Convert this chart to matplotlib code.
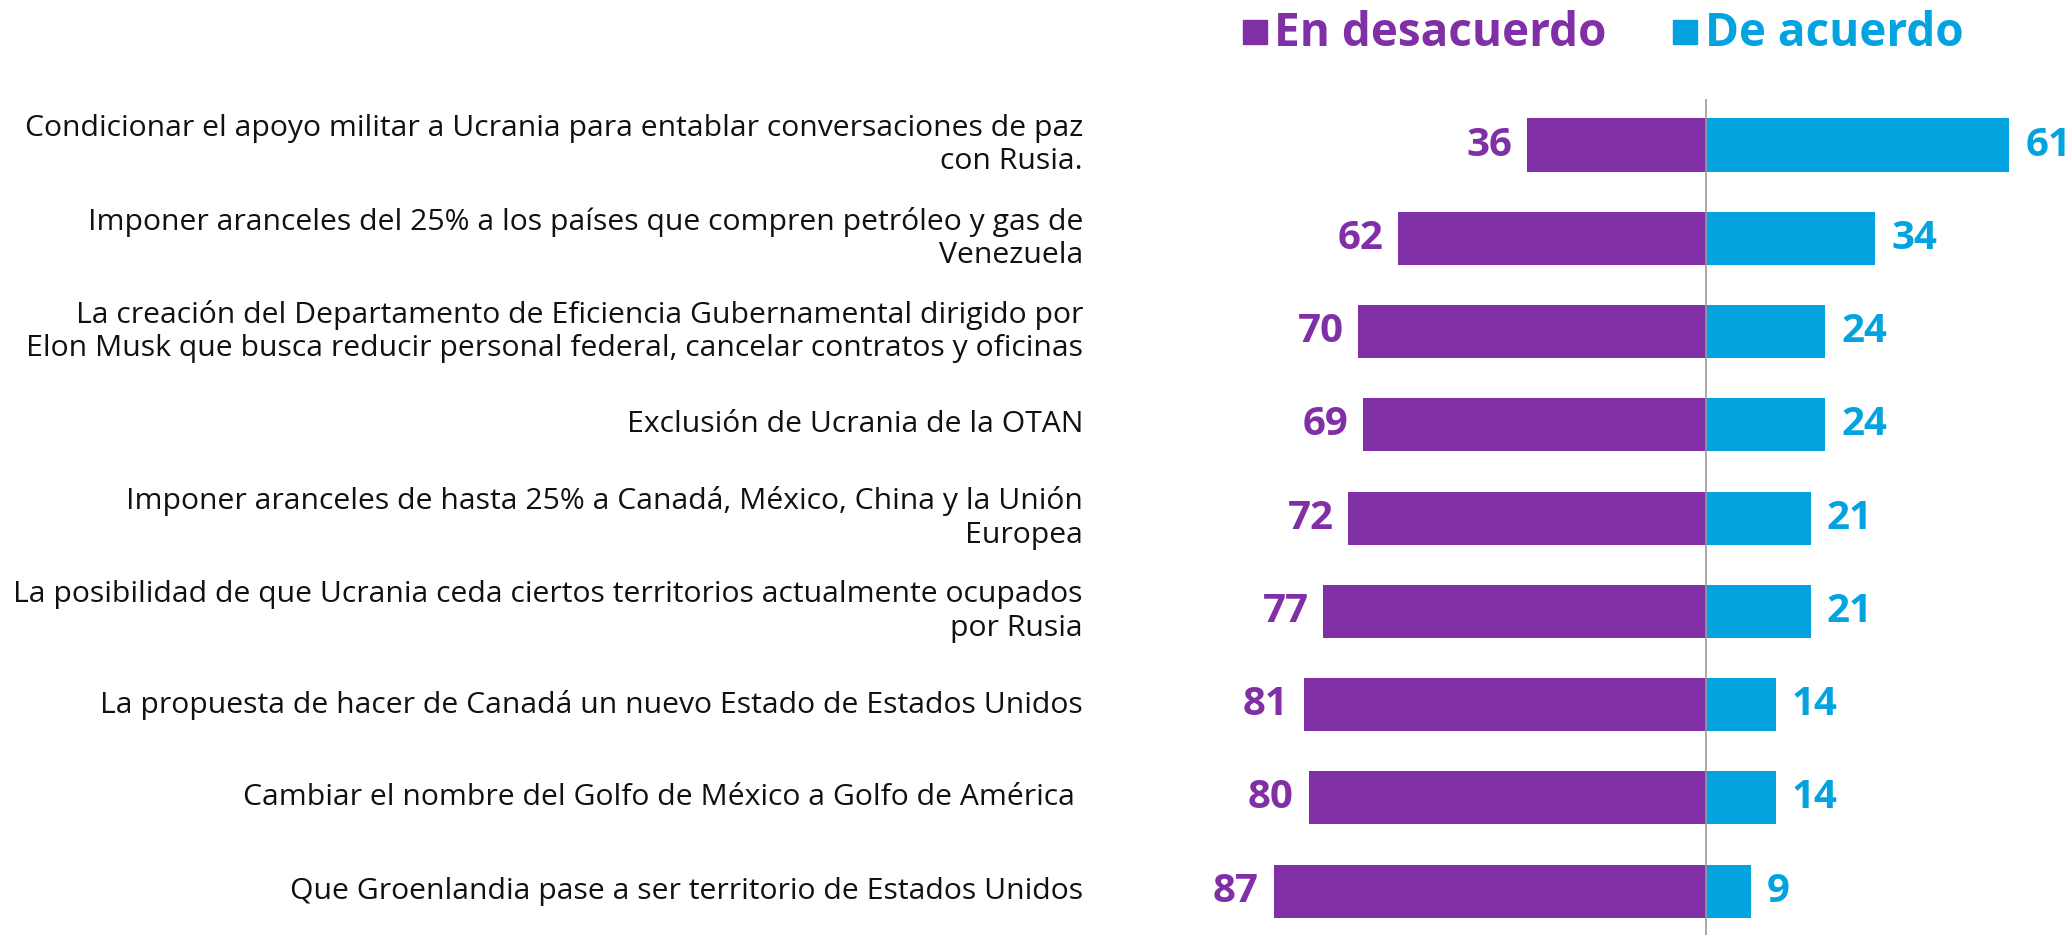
import matplotlib.pyplot as plt

# Data
labels = [
    "Condicionar el apoyo militar a Ucrania para entablar conversaciones de paz\ncon Rusia.",
    "Imponer aranceles del 25% a los países que compren petróleo y gas de\nVenezuela",
    "La creación del Departamento de Eficiencia Gubernamental dirigido por\nElon Musk que busca reducir personal federal, cancelar contratos y oficinas",
    "Exclusión de Ucrania de la OTAN",
    "Imponer aranceles de hasta 25% a Canadá, México, China y la Unión\nEuropea",
    "La posibilidad de que Ucrania ceda ciertos territorios actualmente ocupados\npor Rusia",
    "La propuesta de hacer de Canadá un nuevo Estado de Estados Unidos",
    "Cambiar el nombre del Golfo de México a Golfo de América ",
    "Que Groenlandia pase a ser territorio de Estados Unidos",
]
desacuerdo = [36, 62, 70, 69, 72, 77, 81, 80, 87]
acuerdo = [61, 34, 24, 24, 21, 21, 14, 14, 9]
series_names = ["En desacuerdo", "De acuerdo"]

purple = "#812FA6"
blue = "#03A3E0"

plt.rcParams['font.family'] = ['Open Sans', 'DejaVu Sans']

fig = plt.figure(figsize=(20.67, 9.35), dpi=100)
ax = fig.add_axes([0, 0, 1, 1])
ax.set_xlim(-343.3, 72.6)
ax.set_ylim(8.47, -1.555)
ax.axis('off')

y = list(range(len(labels)))

# diverging bars
ax.barh(y, [-v for v in desacuerdo], height=0.57, color=purple)
ax.barh(y, acuerdo, height=0.57, color=blue)

# center line
ax.vlines(0, -0.49, 8.47, color="#999999", linewidth=1.2, zorder=3)

# value labels
for i in y:
    ax.text(-desacuerdo[i] - 3.0, i, str(desacuerdo[i]), ha='right', va='center',
            color=purple, fontsize=29, fontweight='bold')
    ax.text(acuerdo[i] + 3.2, i, str(acuerdo[i]), ha='left', va='center',
            color=blue, fontsize=29, fontweight='bold')

# category labels
for i, lab in enumerate(labels):
    ax.text(-125.4, i, lab, ha='right', va='center', fontsize=21.7,
            color="#111111", linespacing=1.2)

# legend
ax.plot([-90.8], [-1.21], marker='s', markersize=17, color=purple, linestyle='none')
ax.text(-87.0, -1.2, series_names[0], ha='left', va='center', fontsize=33,
        fontweight='bold', color=purple)
ax.plot([-4.2], [-1.21], marker='s', markersize=17, color=blue, linestyle='none')
ax.text(-0.3, -1.2, series_names[1], ha='left', va='center', fontsize=33,
        fontweight='bold', color=blue)

fig.savefig("out.png", dpi=100)
